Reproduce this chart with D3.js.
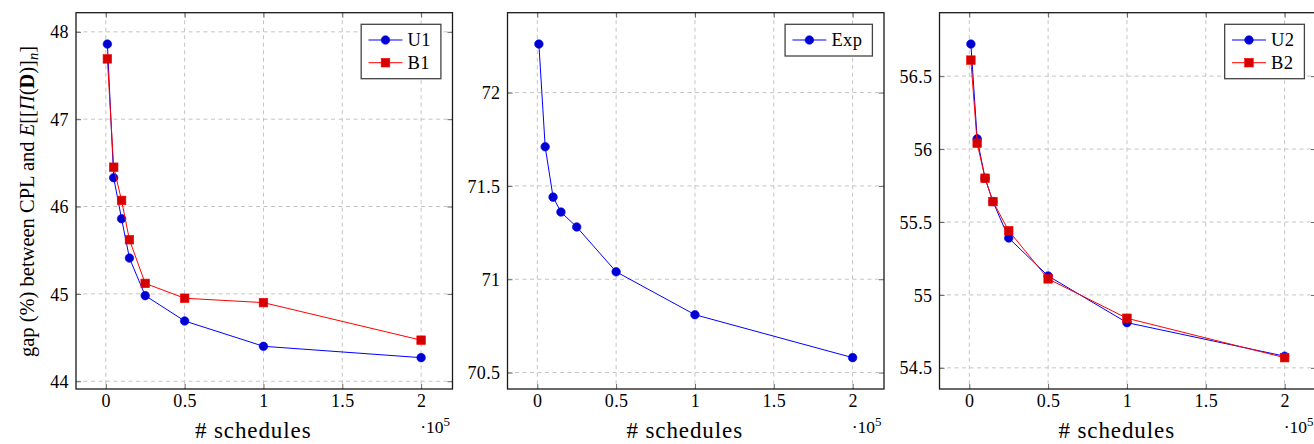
<!DOCTYPE html>
<html>
<head>
<meta charset="utf-8">
<script src="https://cdn.jsdelivr.net/npm/d3@7"></script>
<style>
  html, body { margin: 0; padding: 0; background: #fff; }
  svg { display: block; }
  text { font-family: "Liberation Serif", "Times New Roman", "DejaVu Serif", serif; fill: #000; }
</style>
</head>
<body>
<svg id="chart" width="1314" height="444"></svg>
<script>
// ---- data ----
const schedules = [1000, 5000, 10000, 15000, 25000, 50000, 100000, 200000];
const u1 = [47.86, 46.33, 45.86, 45.41, 44.98, 44.69, 44.40, 44.27];
const b1 = [47.69, 46.45, 46.07, 45.62, 45.12, 44.95, 44.90, 44.47];
const expSeries = [72.26, 71.71, 71.44, 71.36, 71.28, 71.04, 70.81, 70.58];
const u2 = [56.72, 56.07, 55.80, 55.64, 55.39, 55.13, 54.81, 54.58];
const b2 = [56.61, 56.04, 55.80, 55.64, 55.44, 55.11, 54.84, 54.57];
const xTickValues = [0, 50000, 100000, 150000, 200000];
const xTickLabels = ["0", "0.5", "1", "1.5", "2"];
const yTicks1 = [44, 45, 46, 47, 48];
const yTicks2 = [70.5, 71, 71.5, 72];
const yTicks3 = [54.5, 55, 55.5, 56, 56.5];
const xLabelText = "# schedules";
const xScaleText = "·10";
const xScaleExp = "5";

const panels = [
  { left: 76, series: [{ name: "U1", values: u1, kind: "circle" }, { name: "B1", values: b1, kind: "square" }], yTicks: yTicks1, ylabel: true },
  { left: 507.5, series: [{ name: "Exp", values: expSeries, kind: "circle" }], yTicks: yTicks2, ylabel: false },
  { left: 939.5, series: [{ name: "U2", values: u2, kind: "circle" }, { name: "B2", values: b2, kind: "square" }], yTicks: yTicks3, ylabel: false }
];

const styles = {
  circle: { stroke: "#0000ff", fill: "#0000d0" },
  square: { stroke: "#ff0000", fill: "#d40000" }
};

const FONT = '"Liberation Serif", "Times New Roman", "DejaVu Serif", serif';
const W = 376.5, H = 376.3, TOP = 12.7;
const svg = d3.select("#chart");

function enlarge(min, max) { const r = max - min; return [min - 0.1 * r, max + 0.1 * r]; }

panels.forEach(p => {
  const g = svg.append("g").attr("transform", `translate(${p.left},${TOP})`);
  const xd = enlarge(d3.min(schedules), d3.max(schedules));
  const all = p.series.flatMap(s => s.values);
  const yd = enlarge(d3.min(all), d3.max(all));
  const x = d3.scaleLinear().domain(xd).range([0, W]);
  const y = d3.scaleLinear().domain(yd).range([H, 0]);

  // grid
  const grid = g.append("g");
  grid.selectAll(".gx").data(xTickValues).enter().append("line")
    .attr("x1", d => x(d)).attr("x2", d => x(d)).attr("y1", 0).attr("y2", H)
    .attr("stroke", "#c4c4c4").attr("stroke-width", 1).attr("stroke-dasharray", "4,3.5");
  grid.selectAll(".gy").data(p.yTicks).enter().append("line")
    .attr("x1", 0).attr("x2", W).attr("y1", d => y(d)).attr("y2", d => y(d))
    .attr("stroke", "#c4c4c4").attr("stroke-width", 1).attr("stroke-dasharray", "4,3.5");

  // axes with inward ticks (all four sides)
  const tl = 5;
  const axB = g.append("g").attr("transform", `translate(0,${H})`)
    .call(d3.axisBottom(x).tickValues(xTickValues).tickSizeInner(-tl).tickSizeOuter(0).tickFormat((d, i) => xTickLabels[i]));
  const axT = g.append("g")
    .call(d3.axisTop(x).tickValues(xTickValues).tickSizeInner(-tl).tickSizeOuter(0).tickFormat(""));
  const axL = g.append("g")
    .call(d3.axisLeft(y).tickValues(p.yTicks).tickSizeInner(-tl).tickSizeOuter(0).tickFormat(d3.format("")));
  const axR = g.append("g").attr("transform", `translate(${W},0)`)
    .call(d3.axisRight(y).tickValues(p.yTicks).tickSizeInner(-tl).tickSizeOuter(0).tickFormat(""));
  [axB, axT, axL, axR].forEach(a => {
    a.attr("font-family", FONT);
    a.select(".domain").remove();
    a.selectAll(".tick line").attr("stroke", "#666").attr("stroke-width", 1);
  });
  axB.selectAll(".tick text").attr("y", 18).attr("dy", "0").attr("font-size", "18px")
    .attr("letter-spacing", "0.4px").attr("fill", "#000");
  axL.selectAll(".tick text").attr("x", -7).attr("dy", "0.34em").attr("font-size", "18px")
    .attr("letter-spacing", "0.4px").attr("fill", "#000");

  // data
  const line = d3.line().x((d, i) => x(schedules[i])).y(d => y(d));
  p.series.forEach(s => {
    const st = styles[s.kind];
    g.append("path").datum(s.values).attr("d", line)
      .attr("fill", "none").attr("stroke", st.stroke).attr("stroke-width", 1);
    const m = g.append("g");
    if (s.kind === "circle") {
      m.selectAll("circle").data(s.values).enter().append("circle")
        .attr("cx", (d, i) => x(schedules[i])).attr("cy", d => y(d)).attr("r", 4.3)
        .attr("fill", st.fill).attr("stroke", st.stroke).attr("stroke-width", 0.6);
    } else {
      m.selectAll("rect").data(s.values).enter().append("rect")
        .attr("x", (d, i) => x(schedules[i]) - 4.3).attr("y", d => y(d) - 4.3)
        .attr("width", 8.6).attr("height", 8.6)
        .attr("fill", st.fill).attr("stroke", st.stroke).attr("stroke-width", 0.6);
    }
  });

  // frame
  g.append("rect").attr("x", 0).attr("y", 0).attr("width", W).attr("height", H)
    .attr("fill", "none").attr("stroke", "#1a1a1a").attr("stroke-width", 1.3);

  // legend
  const leg = g.append("g");
  const rowH = 22.7;
  const items = leg.selectAll("g.item").data(p.series).enter().append("g")
    .attr("transform", (d, i) => `translate(0,${15.7 + i * rowH})`);
  items.append("text").attr("x", 46.3).attr("y", 0).attr("dy", "0.34em")
    .attr("font-size", "18.5px").attr("letter-spacing", "0.4px").text(d => d.name);
  let maxW = 0;
  items.selectAll("text").each(function () { maxW = Math.max(maxW, this.getComputedTextLength()); });
  const lw = 46.3 + maxW + 10;
  const lh = 15.7 + (p.series.length - 1) * rowH + 16;
  const lx = W - 11.6 - lw, ly = 11.6;
  leg.attr("transform", `translate(${lx},${ly})`);
  leg.insert("rect", ":first-child").attr("x", 0).attr("y", 0).attr("width", lw).attr("height", lh)
    .attr("fill", "#fff").attr("stroke", "#444").attr("stroke-width", 1.3);
  items.append("line").attr("x1", 7.3).attr("x2", 41.3).attr("y1", 0).attr("y2", 0)
    .attr("stroke", d => styles[d.kind].stroke).attr("stroke-width", 1);
  items.each(function (d) {
    const st = styles[d.kind];
    const it = d3.select(this);
    if (d.kind === "circle") {
      it.append("circle").attr("cx", 24.3).attr("cy", 0).attr("r", 4.3)
        .attr("fill", st.fill).attr("stroke", st.stroke).attr("stroke-width", 0.6);
    } else {
      it.append("rect").attr("x", 24.3 - 4.3).attr("y", -4.3).attr("width", 8.6).attr("height", 8.6)
        .attr("fill", st.fill).attr("stroke", st.stroke).attr("stroke-width", 0.6);
    }
  });

  // x label
  g.append("text").attr("x", W / 2 - 11).attr("y", 438 - TOP).attr("text-anchor", "middle")
    .attr("font-size", "23px").attr("letter-spacing", "0.9px").text(xLabelText);
  // scale label
  const sc = g.append("text").attr("x", W - 2.5).attr("y", 433 - TOP).attr("text-anchor", "end")
    .attr("font-size", "17.5px");
  sc.append("tspan").text(xScaleText);
  sc.append("tspan").attr("dy", -7).attr("font-size", "13px").text(xScaleExp);

  // y label
  if (p.ylabel) {
    const t = svg.append("text")
      .attr("transform", `translate(33.5,201.5) rotate(-90)`)
      .attr("text-anchor", "middle").attr("font-size", "20.5px");
    t.append("tspan").text("gap (%) between CPL and ");
    t.append("tspan").attr("font-style", "italic").text("E");
    t.append("tspan").text("[[");
    t.append("tspan").attr("font-style", "italic").text("Π");
    t.append("tspan").text("(");
    t.append("tspan").attr("font-weight", "bold").text("D");
    t.append("tspan").text(")]");
    t.append("tspan").attr("font-style", "italic").attr("font-size", "14.5px").attr("dy", 4).text("n");
    t.append("tspan").attr("dy", -4).text("]");
  }
});
</script>
</body>
</html>
